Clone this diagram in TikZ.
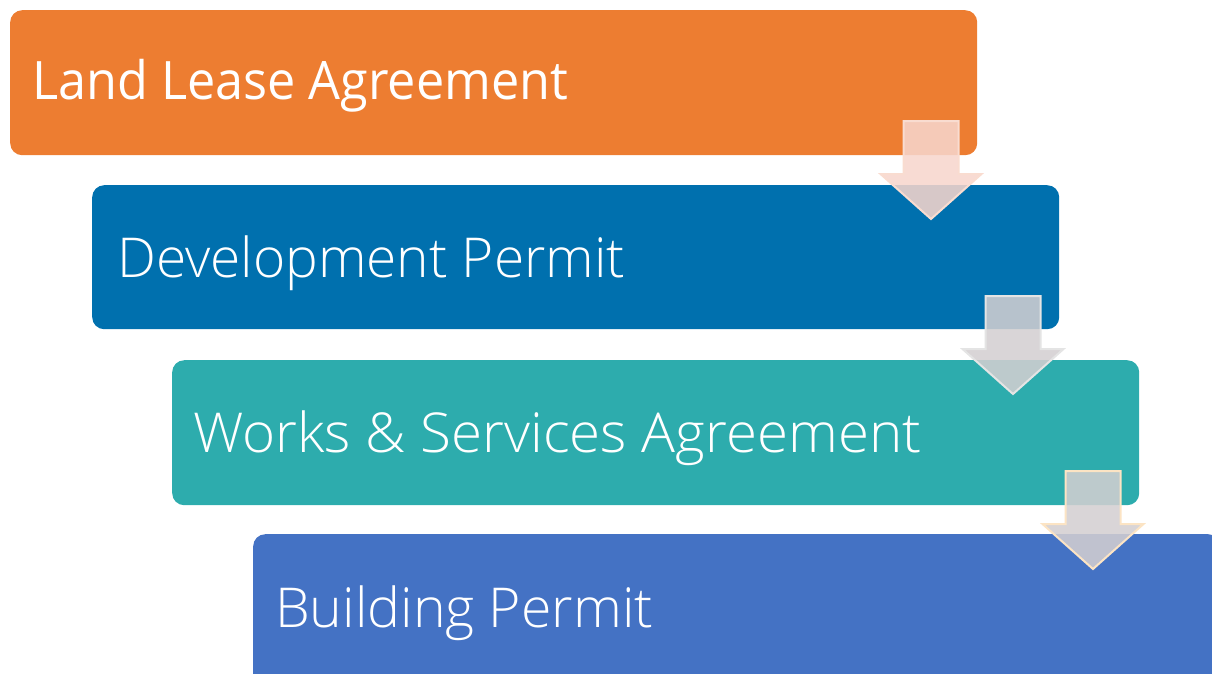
\documentclass[tikz,border=0pt]{standalone}
\usepackage{fontspec}
\setmainfont{Open Sans}
\newfontfamily\lightfont{Open Sans Light}
\usepackage{graphicx}
\definecolor{cOrange}{HTML}{ED7D31}
\definecolor{cBlue}{HTML}{0070AE}
\definecolor{cTeal}{HTML}{2DACAD}
\definecolor{cViolet}{HTML}{4472C4}
\definecolor{aPeach}{RGB}{247,214,205}
\definecolor{aGrey}{RGB}{211,207,209}
\definecolor{oPeach}{HTML}{F9DCD0}
\definecolor{oGrey}{HTML}{E4E4E4}
\definecolor{oCream}{HTML}{FCE4C4}
\tikzset{
  box/.style={rectangle, rounded corners=12pt, draw=none, inner sep=0pt,
    minimum width=967pt, minimum height=145pt, anchor=north west},
  lbl/.style={anchor=base west, inner sep=0pt, text=white},
  arr/.style={line width=2pt, line join=miter, fill opacity=0.87},
}
\newcommand\fitw[2]{\resizebox{#1}{\height}{#2}}
\newcommand\dnarr[4]{% cx, top, fill, draw
  \draw[arr, fill=#3, draw=#4] (#1-27.5,#2) -- (#1+27.5,#2) -- (#1+27.5,#2+53)
    -- (#1+50.5,#2+53) -- (#1,#2+98) -- (#1-50.5,#2+53) -- (#1-27.5,#2+53) -- cycle;}
\begin{document}
\begin{tikzpicture}[x=1pt,y=-1pt]
\useasboundingbox (0,0) rectangle (1212,673);
\clip (0,0) rectangle (1212,673);
\node[box, fill=cOrange] (b1) at (10,10) {};
\node[box, fill=cBlue, minimum height=144pt] (b2) at (92,185) {};
\node[box, fill=cTeal] (b3) at (172,360) {};
\node[box, fill=cViolet, minimum height=170pt] (b4) at (253,534) {};
\node[lbl] (t1) at (32,99) {\fontsize{53}{60}\selectfont\fitw{536pt}{Land Lease Agreement}};
\node[lbl] (t2) at (117,277) {\lightfont\fontsize{55}{62}\selectfont\fitw{508pt}{Development Permit}};
\node[lbl] (t3) at (193,452) {\lightfont\fontsize{55}{62}\selectfont\fitw{728pt}{Works \& Services Agreement}};
\node[lbl] (t4) at (275,627) {\lightfont\fontsize{55}{62}\selectfont\fitw{378pt}{Building Permit}};
\dnarr{931}{121}{aPeach}{oPeach}
\dnarr{1013}{296}{aGrey}{oGrey}
\dnarr{1093}{471}{aGrey}{oCream}
\end{tikzpicture}
\end{document}
